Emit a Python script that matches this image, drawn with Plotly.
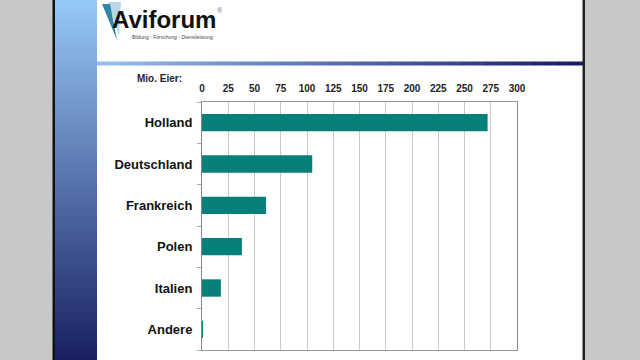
import plotly.graph_objects as go

# Data
countries = ["Holland", "Deutschland", "Frankreich", "Polen", "Italien", "Andere"]
eggs_mio = [272, 105, 61, 38, 18, 0.5]
x_ticks = [0, 25, 50, 75, 100, 125, 150, 175, 200, 225, 250, 275, 300]

W, H = 640, 360

def px(x):
    return x / W

def py(y):
    return 1 - y / H

def lerp(c1, c2, t):
    return "rgb(%d,%d,%d)" % tuple(round(a + (b - a) * t) for a, b in zip(c1, c2))

shapes = []
# slide white area
shapes.append(dict(type="rect", xref="paper", yref="paper", x0=px(55), x1=px(584), y0=0, y1=1,
                   fillcolor="white", line=dict(width=0), layer="below"))
# black borders of slide
shapes.append(dict(type="rect", xref="paper", yref="paper", x0=px(52.5), x1=px(55), y0=0, y1=1,
                   fillcolor="#111111", line=dict(width=0), layer="below"))
shapes.append(dict(type="rect", xref="paper", yref="paper", x0=px(582.5), x1=px(585), y0=0, y1=1,
                   fillcolor="#222222", line=dict(width=0), layer="below"))
# left vertical gradient bar
top_c, bot_c = (150, 200, 245), (26, 32, 100)
n = 60
for i in range(n):
    y0 = i * H / n
    y1 = (i + 1) * H / n + 0.6
    shapes.append(dict(type="rect", xref="paper", yref="paper", x0=px(55), x1=px(97),
                       y0=py(min(y1, H)), y1=py(y0), fillcolor=lerp(top_c, bot_c, i / (n - 1)),
                       line=dict(width=0), layer="below"))
# horizontal gradient line under logo
left_c, right_c = (150, 190, 235), (25, 28, 100)
m = 40
for i in range(m):
    x0 = 97 + i * (583 - 97) / m
    x1 = 97 + (i + 1) * (583 - 97) / m + 0.6
    shapes.append(dict(type="rect", xref="paper", yref="paper", x0=px(x0), x1=px(min(x1, 583)),
                       y0=py(65.5), y1=py(61.5), fillcolor=lerp(left_c, right_c, i / (m - 1)),
                       line=dict(width=0), layer="below"))
# logo wedge
shapes.append(dict(type="path", xref="paper", yref="paper",
                   path="M %f %f L %f %f L %f %f Z" % (px(108), py(2), px(121), py(2), px(119), py(36)),
                   fillcolor="#b8d8ea", line=dict(width=0), layer="below"))
shapes.append(dict(type="path", xref="paper", yref="paper",
                   path="M %f %f L %f %f L %f %f Z" % (px(102), py(4), px(110), py(4), px(117), py(40)),
                   fillcolor="#2f87a3", line=dict(width=0), layer="below"))

fig = go.Figure(go.Bar(
    x=eggs_mio, y=countries, orientation="h",
    marker=dict(color="#077f7a", line=dict(width=0)),
    width=0.42,
))

annotations = [
    dict(text="<b>Mio. Eier:</b>", xref="paper", yref="paper", x=px(159), y=py(78),
         showarrow=False, font=dict(family="Arial, Liberation Sans", size=10, color="#222222"),
         xanchor="center", yanchor="middle"),
    dict(text="<b>Aviforum</b>", xref="paper", yref="paper", x=px(111), y=py(19),
         showarrow=False, font=dict(family="Arial, Liberation Sans", size=24, color="#111111"),
         xanchor="left", yanchor="middle", borderpad=0),
    dict(text="®", xref="paper", yref="paper", x=px(216), y=py(10),
         showarrow=False, font=dict(family="Arial, Liberation Sans", size=7, color="#777777"),
         xanchor="left", yanchor="middle", borderpad=0),
    dict(text="Bildung ◦ Forschung ◦ Dienstleistung", xref="paper", yref="paper", x=px(131), y=py(37),
         showarrow=False, font=dict(family="Arial, Liberation Sans", size=5, color="#444444"),
         xanchor="left", yanchor="middle", borderpad=0),
]

fig.update_layout(
    width=W, height=H,
    margin=dict(l=0, r=0, t=0, b=0, autoexpand=False),
    paper_bgcolor="#c8c8ca",
    plot_bgcolor="white",
    showlegend=False,
    shapes=shapes,
    annotations=annotations,
    bargap=0.58,
    xaxis=dict(
        domain=[px(202), px(517)],
        range=[0, 300],
        side="top",
        automargin=False,
        tickmode="array", tickvals=x_ticks,
        ticktext=["<b>%d</b>" % v for v in x_ticks],
        tickfont=dict(family="Arial, Liberation Sans", size=10, color="#222222"),
        showgrid=True, gridcolor="#c8c8c8", gridwidth=1,
        showline=True, linecolor="#999999", linewidth=1, mirror=True,
        ticks="", zeroline=False, ticklabelstandoff=5,
        fixedrange=True,
    ),
    yaxis=dict(
        domain=[py(350), py(102)],
        automargin=False,
        categoryorder="array", categoryarray=countries,
        autorange="reversed",
        tickfont=dict(family="Arial, Liberation Sans", size=13, color="#111111"),
        tickmode="array", tickvals=countries,
        ticktext=["<b>%s</b>" % c for c in countries],
        showline=True, linecolor="#888888", linewidth=1, mirror=True,
        ticks="outside", tickson="boundaries", ticklen=4, tickcolor="#aaaaaa",
        showgrid=False, ticklabelstandoff=6,
        fixedrange=True,
    ),
)

fig.write_html("out.html")
